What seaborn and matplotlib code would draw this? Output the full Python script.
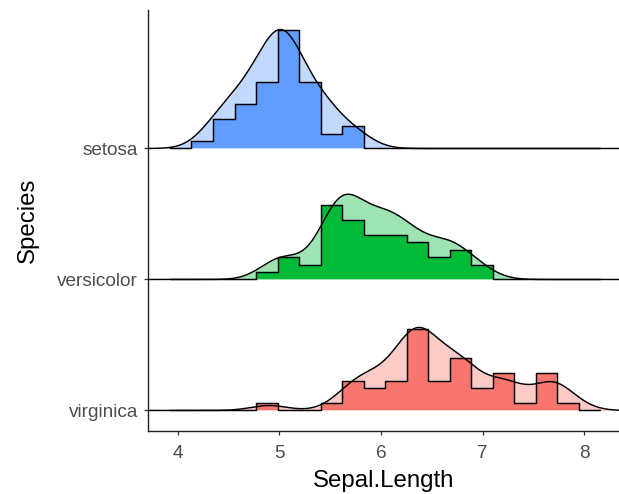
import numpy as np
import matplotlib
matplotlib.use("Agg")
import matplotlib.pyplot as plt
import matplotlib.transforms as mtransforms
import seaborn as sns

# ---- data (iris Sepal.Length, per species) ----
setosa_len = [5.1, 4.9, 4.7, 4.6, 5.0, 5.4, 4.6, 5.0, 4.4, 4.9, 5.4, 4.8, 4.8, 4.3, 5.8,
              5.7, 5.4, 5.1, 5.7, 5.1, 5.4, 5.1, 4.6, 5.1, 4.8, 5.0, 5.0, 5.2, 5.2, 4.7,
              4.8, 5.4, 5.2, 5.5, 4.9, 5.0, 5.5, 4.9, 4.4, 5.1, 5.0, 4.5, 4.4, 5.0, 5.1,
              4.8, 5.1, 4.6, 5.3, 5.0]
versicolor_len = [7.0, 6.4, 6.9, 5.5, 6.5, 5.7, 6.3, 4.9, 6.6, 5.2, 5.0, 5.9, 6.0, 6.1, 5.6,
                  6.7, 5.6, 5.8, 6.2, 5.6, 5.9, 6.1, 6.3, 6.1, 6.4, 6.6, 6.8, 6.7, 6.0, 5.7,
                  5.5, 5.5, 5.8, 6.0, 5.4, 6.0, 6.7, 6.3, 5.6, 5.5, 5.5, 6.1, 5.8, 5.0, 5.6,
                  5.7, 5.7, 6.2, 5.1, 5.7]
virginica_len = [6.3, 5.8, 7.1, 6.3, 6.5, 7.6, 4.9, 7.3, 6.7, 7.2, 6.5, 6.4, 6.8, 5.7, 5.8,
                 6.4, 6.5, 7.7, 7.7, 6.0, 6.9, 5.6, 7.7, 6.3, 6.7, 7.2, 6.2, 6.1, 6.4, 7.2,
                 7.4, 7.9, 6.4, 6.3, 6.1, 7.7, 6.3, 6.4, 6.0, 6.9, 6.7, 6.9, 5.8, 6.8, 6.7,
                 6.7, 6.3, 6.5, 6.2, 5.9]

species = ["virginica", "versicolor", "setosa"]          # bottom -> top
species_values = [virginica_len, versicolor_len, setosa_len]
species_colors = ["#F8766D", "#00BA38", "#619CFF"]
bin_edges = [3.923, 4.135, 4.347, 4.559, 4.770, 4.982, 5.194, 5.406, 5.617, 5.829,
             6.041, 6.253, 6.465, 6.676, 6.888, 7.100, 7.312, 7.524, 7.735, 7.947, 8.159]
x_ticks = [4, 5, 6, 7, 8]

# ---- figure ----
W, Hpx = 619, 494
fig = plt.figure(figsize=(W / 100, Hpx / 100), dpi=100)
sns.set_style("white")
plt.rcParams["font.family"] = ["Liberation Sans", "DejaVu Sans"]
ax = fig.add_axes([148 / W, 1 - 431 / Hpx, (W - 148) / W, (431 - 10) / Hpx])

xlo, xhi = 3.708, 8.341
ylo, yhi = -0.1568, 3.0572
ridge_h = 0.908


def bw_nrd0(a):
    a = np.asarray(a)
    sd = a.std(ddof=1)
    iqr = np.subtract(*np.percentile(a, [75, 25]))
    return 0.9 * min(sd, iqr / 1.34) * len(a) ** (-0.2)


# joint bandwidth (mean of per-group bw.nrd0), as ggridges does
joint_bw = np.mean([bw_nrd0(v) for v in species_values])

dens_fills, dens_lines, hist_fills, hist_lines = [], [], [], []
for vals, col in zip(species_values, species_colors):
    fac = joint_bw / np.std(vals, ddof=1)
    n0 = len(ax.collections)
    sns.kdeplot(x=vals, bw_method=fac, cut=40, clip=(xlo, xhi), gridsize=600,
                fill=True, color=col, alpha=0.38, linewidth=0, ax=ax)
    dens_fills.append(ax.collections[n0])
    n0 = len(ax.collections)
    sns.histplot(x=vals, bins=bin_edges, stat="count", element="step", fill=True,
                 color=col, alpha=1, linewidth=0, ax=ax)
    hist_fills.append(ax.collections[n0])
    l0 = len(ax.lines)
    sns.histplot(x=vals, bins=bin_edges, stat="count", element="step", fill=False,
                 color="black", linewidth=1.05, ax=ax)
    hist_lines.append(ax.lines[l0])
    l0 = len(ax.lines)
    sns.kdeplot(x=vals, bw_method=fac, cut=40, clip=(xlo, xhi), gridsize=600,
                fill=False, color="black", linewidth=1.05, ax=ax)
    dens_lines.append(ax.lines[l0])

dmax = max(np.max(l.get_ydata()) for l in dens_lines)
hmax = max(np.max(l.get_ydata()) for l in hist_lines)
for i in range(len(species)):
    td = mtransforms.Affine2D().scale(1, ridge_h / dmax).translate(0, i) + ax.transData
    th = mtransforms.Affine2D().scale(1, ridge_h / hmax).translate(0, i) + ax.transData
    dens_fills[i].set_transform(td); dens_fills[i].set_zorder(1 + 0.1 * i)
    hist_fills[i].set_transform(th); hist_fills[i].set_zorder(2 + 0.1 * i)
    hist_lines[i].set_transform(th); hist_lines[i].set_zorder(3 + 0.1 * i)
    dens_lines[i].set_transform(td); dens_lines[i].set_zorder(4 + 0.1 * i)

ax.set_xlim(xlo, xhi)
ax.set_ylim(ylo, yhi)
ax.set_xticks(x_ticks)
ax.set_xticklabels([str(t) for t in x_ticks])
ax.set_yticks(range(len(species)))
ax.set_yticklabels(species)
for s in ["top", "right"]:
    ax.spines[s].set_visible(False)
for s in ["left", "bottom"]:
    ax.spines[s].set_color("#222222")
    ax.spines[s].set_linewidth(1.0)
ax.tick_params(axis="both", which="major", length=3.2, width=0.9, color="#333333",
               labelsize=13.7, labelcolor="#4D4D4D", left=True, bottom=True)
ax.tick_params(axis="x", pad=7)
ax.tick_params(axis="y", pad=4)
ax.set_xlabel("Sepal.Length", fontsize=17.3, color="black", labelpad=6)
ax.set_ylabel("Species", fontsize=17.3, color="black", labelpad=13)

fig.savefig("out.png", dpi=100)
